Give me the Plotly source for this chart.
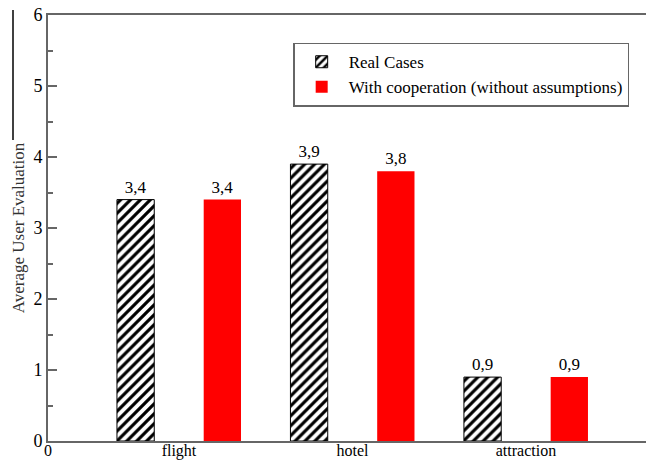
import plotly.graph_objects as go

# Average user evaluation per service type
categories = ["flight", "hotel", "attraction"]
real_cases = [3.4, 3.9, 0.9]
with_cooperation = [3.4, 3.8, 0.9]
series_names = ["Real Cases", "With cooperation (without assumptions)"]

SERIF = "Liberation Serif"
AXIS_GRAY = "#666666"

cat_pos = [i + 1 for i in range(len(categories))]
offset = 0.25
bar_w = 0.215

fig = go.Figure()
fig.add_trace(go.Bar(
    name=series_names[0],
    x=[p - offset for p in cat_pos],
    y=real_cases,
    width=bar_w,
    marker=dict(
        color="white",
        line=dict(color="black", width=1),
        pattern=dict(shape="/", fgcolor="black", bgcolor="white",
                     size=7, solidity=0.45, fillmode="replace"),
    ),
    texttemplate="%{y:.1f}",
    textposition="outside",
    textfont=dict(family=SERIF, size=17, color="black"),
    cliponaxis=False,
))
fig.add_trace(go.Bar(
    name=series_names[1],
    x=[p + offset for p in cat_pos],
    y=with_cooperation,
    width=bar_w,
    marker=dict(color="#ff0000", line=dict(color="#ff0000", width=0)),
    texttemplate="%{y:.1f}",
    textposition="outside",
    textfont=dict(family=SERIF, size=17, color="black"),
    cliponaxis=False,
))

x_left = 0.245
x_right = 3.692

fig.update_layout(
    width=646,
    height=460,
    margin=dict(l=48, r=0, t=15, b=19),
    paper_bgcolor="white",
    plot_bgcolor="white",
    separators=",.",
    barmode="overlay",
    font=dict(family=SERIF, size=16, color="black"),
    showlegend=True,
    legend=dict(
        x=0.41, y=0.935, xanchor="left", yanchor="top",
        bgcolor="white", bordercolor=AXIS_GRAY, borderwidth=1.5,
        font=dict(family=SERIF, size=17, color="black"),
        tracegroupgap=0, itemwidth=44,
    ),
    xaxis=dict(
        range=[x_left, x_right],
        tickvals=[x_left] + cat_pos,
        ticktext=["0"] + categories,
        ticks="",
        ticklabelstandoff=-6,
        showgrid=False,
        zeroline=False,
        showline=True,
        linecolor=AXIS_GRAY,
        linewidth=2,
        mirror=True,
        automargin=False,
        tickfont=dict(family=SERIF, size=16, color="black"),
    ),
    yaxis=dict(
        range=[0, 6],
        dtick=1,
        ticks="inside",
        ticklen=9,
        tickwidth=1.5,
        tickcolor=AXIS_GRAY,
        minor=dict(dtick=0.5, ticks="inside", ticklen=5, tickwidth=1.5, tickcolor=AXIS_GRAY),
        showgrid=False,
        zeroline=False,
        showline=True,
        linecolor=AXIS_GRAY,
        linewidth=2,
        mirror=False,
        automargin=False,
        tickfont=dict(family=SERIF, size=18, color="black"),
        title=dict(text="Average User Evaluation", standoff=4,
                   font=dict(family=SERIF, size=17, color="#333333")),
    ),
)

# thin vertical rule at the far left edge
fig.add_shape(type="line", xref="paper", yref="paper",
              x0=-35 / 598, x1=-35 / 598, y0=(441 - 10) / 426, y1=(441 - 140) / 426,
              line=dict(color="black", width=1.5))

fig.write_html("out.html")
